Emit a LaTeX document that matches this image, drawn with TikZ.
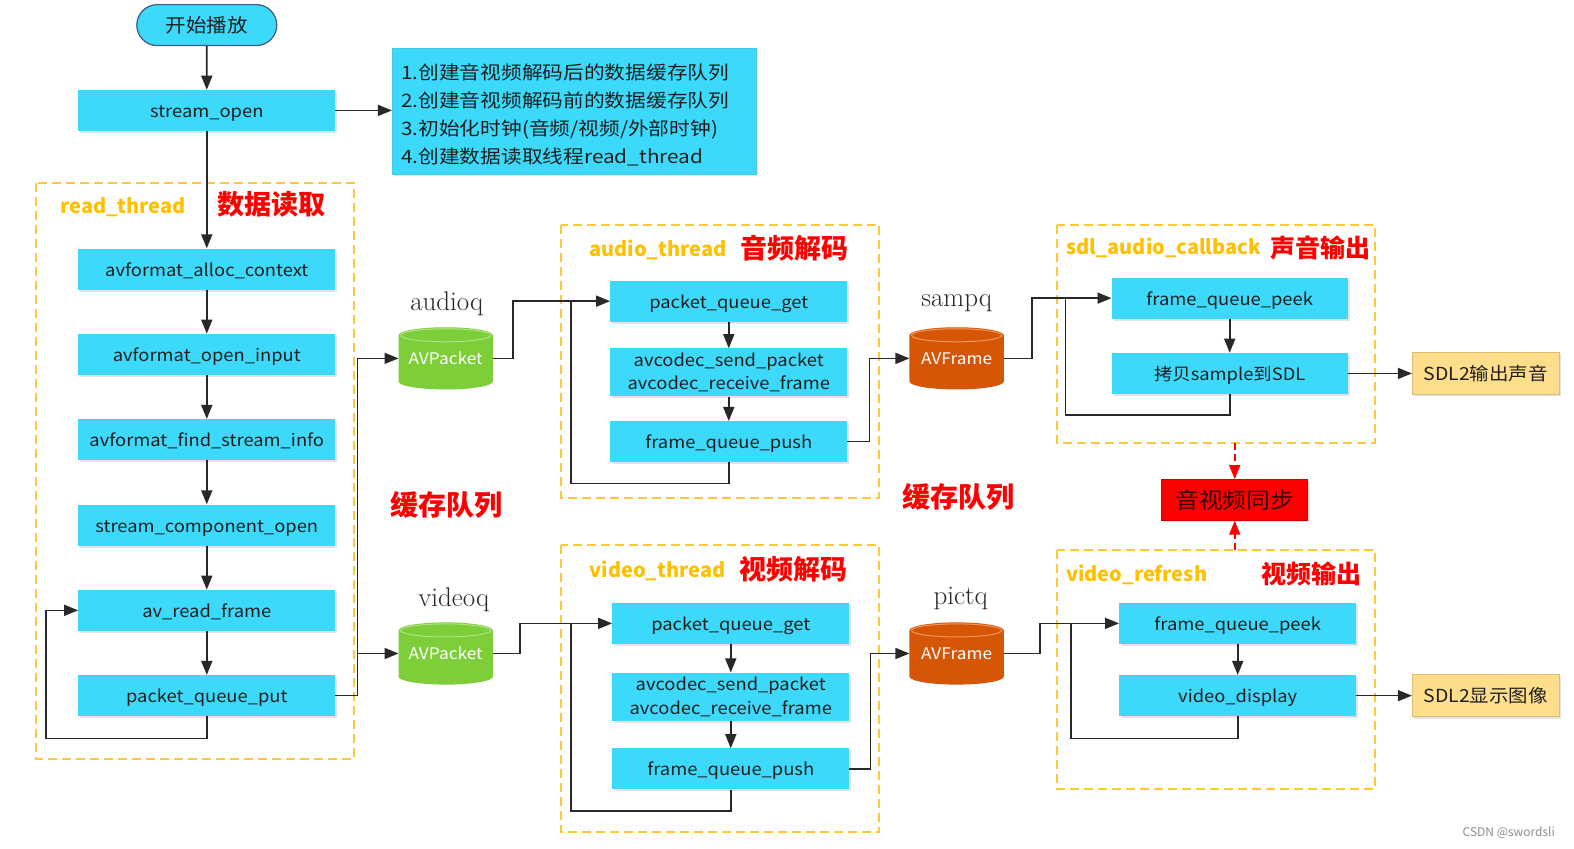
\documentclass[tikz,border=0pt]{standalone}
\usepackage{fontspec}
\usetikzlibrary{arrows.meta,shapes.misc,shadows,calc}
\newfontfamily\cjk[FakeStretch=1.08]{Noto Sans CJK SC}
\newfontfamily\cjki[FakeStretch=1.12]{Noto Sans CJK SC}
\newfontfamily\cjkn{Noto Sans CJK SC}
\definecolor{boxc}{RGB}{61,217,251}
\definecolor{txt}{RGB}{30,30,30}
\definecolor{labo}{RGB}{255,192,0}
\definecolor{dashc}{RGB}{255,200,60}
\definecolor{linec}{RGB}{40,40,40}
\definecolor{ylw}{RGB}{254,222,138}
\definecolor{cgreen}{RGB}{125,206,56}
\definecolor{cgreenr}{RGB}{175,228,130}
\definecolor{corange}{RGB}{214,86,8}
\definecolor{coranger}{RGB}{240,150,90}
\newcommand{\mycyl}[4]{%
  \fill[#3] (#1-47,#2-23) -- (#1-47,#2+23) arc[start angle=180,end angle=0,x radius=47,y radius=8]
    -- (#1+47,#2-23) arc[start angle=0,end angle=-180,x radius=47,y radius=8] -- cycle;
  \draw[#4,line width=1pt] (#1,#2-23) ellipse [x radius=45,y radius=6.5];
}
\tikzset{
  shad/.style={drop shadow={shadow xshift=2pt,shadow yshift=-2pt,opacity=0.18,fill=black!60}},
  box/.style={fill=boxc,text=txt,minimum width=237pt,minimum height=41pt,inner sep=0pt,
    font=\cjk\fontsize{17}{22}\selectfont,align=center,shad},
  one/.style={text height=15pt,text depth=1pt},
  wbox/.style={box,one,minimum width=257pt},
  ybox/.style={fill=ylw,draw=ylw!85!black,line width=0.6pt,text=txt,minimum width=147pt,minimum height=42pt,
    inner sep=0pt,font=\cjk\fontsize{18}{22}\selectfont,shad},
  arr/.style={draw=linec,line width=1.6pt,-{Triangle[length=14pt,width=11pt]}},
  ln/.style={draw=linec,line width=1.6pt},
  rarr/.style={draw=red,line width=1.6pt,dash pattern=on 7pt off 4pt,-{Triangle[length=14pt,width=11pt]}},
  dbox/.style={draw=dashc,line width=1.8pt,dash pattern=on 9pt off 5pt},
  olab/.style={text=labo,font=\cjkn\bfseries\fontsize{20}{24}\selectfont,anchor=west,inner sep=0pt},
  rlab/.style={text=red,font=\cjkn\bfseries\fontsize{27}{30}\selectfont,inner sep=0pt},
  qlab/.style={font=\fontsize{27}{30}\selectfont,text=black!85,inner sep=0pt},
  cyltext/.style={minimum width=94pt,minimum height=62pt,inner sep=0pt,text=white,font=\cjk\fontsize{16}{20}\selectfont},
}
\begin{document}
\begin{tikzpicture}[x=1.004pt,y=-1.004pt]
\useasboundingbox (0,0) rectangle (1568,845);
% dashed containers
\draw[dbox] (36,182) rectangle (353,756);
\draw[dbox] (559,224) rectangle (876,496);
\draw[dbox] (1053,224) rectangle (1370,441);
\draw[dbox] (559,543) rectangle (876,829);
\draw[dbox] (1053,548) rectangle (1370,786);
% labels
\node[olab] (lread) at (60,206) {read\_thread};
\node[rlab] (lreadc) at (270,204) {数据读取};
\node[olab] (laudio) at (587,249) {audio\_thread};
\node[rlab] (laudioc) at (791,247) {音频解码};
\node[olab] (lsdl) at (1062,247) {sdl\_audio\_callback};
\node[rlab,font=\cjkn\bfseries\fontsize{25}{30}\selectfont] (lsdlc) at (1315,247) {声音输出};
\node[olab] (lvideo) at (587,569) {video\_thread};
\node[rlab] (lvideoc) at (790,567) {视频解码};
\node[olab] (lvr) at (1062,573) {video\_refresh};
\node[rlab,font=\cjkn\bfseries\fontsize{25}{30}\selectfont] (lvrc) at (1306,572) {视频输出};
\node[rlab,font=\cjkn\bfseries\fontsize{28}{30}\selectfont] (cache1) at (445,503) {缓存队列};
\node[rlab,font=\cjkn\bfseries\fontsize{28}{30}\selectfont] (cache2) at (955,495) {缓存队列};
% start and info
\node[rounded rectangle,fill=boxc,draw={rgb,255:red,60;green,90;blue,125},line width=1.2pt,
  minimum width=140pt,minimum height=41pt,inner sep=0pt,text=txt,font=\cjk\fontsize{19}{22}\selectfont] (start) at (206,25) {开始播放};
\node[wbox] (so) at (206,110) {stream\_open};
\node[fill=boxc,draw=boxc!80!gray,line width=0.6pt,text=txt,minimum width=363pt,minimum height=126pt,
  text width=346pt,inner xsep=9pt,align=left,font=\cjki\fontsize{18.5}{28}\selectfont,shad] (info) at (572,111)
  {\rule{0pt}{22pt}1.创建音视频解码后的数据缓存队列\\2.创建音视频解码前的数据缓存队列\\3.初始化时钟(音频/视频/外部时钟)\\4.创建数据读取线程read\_thread};
% read thread column
\node[wbox] (alloc) at (206,268) {avformat\_alloc\_context};
\node[wbox] (openin) at (206,353) {avformat\_open\_input};
\node[wbox] (findinfo) at (206,438) {avformat\_find\_stream\_info};
\node[wbox] (sco) at (206,523) {stream\_component\_open};
\node[wbox] (arf) at (206,608) {av\_read\_frame};
\node[wbox] (pqput) at (206,693) {packet\_queue\_put};
% cylinders
\mycyl{444}{357}{cgreen}{cgreenr}
\node[cyltext] (audioq) at (444,357) {AVPacket};
\node[qlab] (audioqlab) at (445,303) {audioq};
\mycyl{444}{651}{cgreen}{cgreenr}
\node[cyltext] (videoq) at (444,651) {AVPacket};
\node[qlab] (videoqlab) at (452,597) {videoq};
\mycyl{953}{357}{corange}{coranger}
\node[cyltext] (sampq) at (953,357) {AVFrame};
\node[qlab] (sampqlab) at (953,302) {sampq};
\mycyl{953}{651}{corange}{coranger}
\node[cyltext] (pictq) at (953,651) {AVFrame};
\node[qlab] (pictqlab) at (957,596) {pictq};
% audio thread
\node[box,one] (apqg) at (726,300) {packet\_queue\_get};
\node[box,minimum height=48pt,font=\cjk\fontsize{17}{24}\selectfont] (adec) at (726,371) {avcodec\_send\_packet\\avcodec\_receive\_frame};
\node[box,one] (afqp) at (726,440) {frame\_queue\_push};
% sdl audio
\node[box,one,minimum width=236pt] (speek) at (1225,297) {frame\_queue\_peek};
\node[box,one,minimum width=236pt] (scopy) at (1225,372) {拷贝sample到SDL};
\node[ybox] (sdl2a) at (1480,372) {SDL2输出声音};
% sync
\node[fill=red,draw=red!80!black,line width=0.6pt,minimum width=146pt,minimum height=41pt,inner sep=0pt,
  text={rgb,255:red,50;green,0;blue,0},font=\cjk\fontsize{22}{26}\selectfont,shad] (sync) at (1230,498) {音视频同步};
% video thread
\node[box,one] (vpqg) at (728,621) {packet\_queue\_get};
\node[box,minimum height=48pt,font=\cjk\fontsize{17}{24}\selectfont] (vdec) at (728,694) {avcodec\_send\_packet\\avcodec\_receive\_frame};
\node[box,one] (vfqp) at (728,766) {frame\_queue\_push};
% video refresh
\node[box,one] (vpeek) at (1233,621) {frame\_queue\_peek};
\node[box,one] (vdisp) at (1233,693) {video\_display};
\node[ybox] (sdl2v) at (1480,693) {SDL2显示图像};
% watermark
\node[text=black!45,font=\cjkn\fontsize{12}{14}\selectfont,inner sep=0pt] (wm) at (1503,830) {CSDN @swordsli};
% connectors
\draw[arr] (start) -- (so);
\draw[arr] (so.east) -- (so.east -| info.west);
\draw[arr] (so) -- (alloc);
\draw[arr] (alloc) -- (openin);
\draw[arr] (openin) -- (findinfo);
\draw[arr] (findinfo) -- (sco);
\draw[arr] (sco) -- (arf);
\draw[arr] (arf) -- (pqput);
\draw[arr] (pqput.south) -- ++(0,22) -| ([xshift=-32pt]arf.west) -- (arf.west);
\draw[arr] (pqput.east) -- ++(22,0) |- (audioq.west);
\draw[arr] (pqput.east) -- ++(22,0) |- (videoq.west);
\draw[arr] (audioq.east) -- ++(20,0) |- (apqg.west);
\draw[arr] (apqg) -- (adec);
\draw[arr] (adec) -- (afqp);
\draw[ln] (afqp.south) -- ++(0,21) -| ([xshift=-39pt]apqg.west);
\draw[arr] (afqp.east) -- ++(22,0) |- (sampq.west);
\draw[arr] (sampq.east) -- ++(28,0) |- (speek.west);
\draw[arr] (speek) -- (scopy);
\draw[ln] (scopy.south) -- ++(0,21) -| ([xshift=-46pt]speek.west);
\draw[arr] (scopy) -- (sdl2a);
\coordinate (sdlbot) at (1230,441);
\coordinate (vrtop) at (1230,548);
\draw[rarr] (sdlbot) -- (sync.north);
\draw[rarr] (vrtop) -- (sync.south);
\draw[arr] (videoq.east) -- ++(27,0) |- (vpqg.west);
\draw[arr] (vpqg) -- (vdec);
\draw[arr] (vdec) -- (vfqp);
\draw[ln] (vfqp.south) -- ++(0,21) -| ([xshift=-41pt]vpqg.west);
\draw[arr] (vfqp.east) -- ++(21,0) |- (pictq.west);
\draw[arr] (pictq.east) -- ++(36,0) |- (vpeek.west);
\draw[arr] (vpeek) -- (vdisp);
\draw[ln] (vdisp.south) -- ++(0,22) -| ([xshift=-48pt]vpeek.west);
\draw[arr] (vdisp) -- (sdl2v);
\end{tikzpicture}
\end{document}
